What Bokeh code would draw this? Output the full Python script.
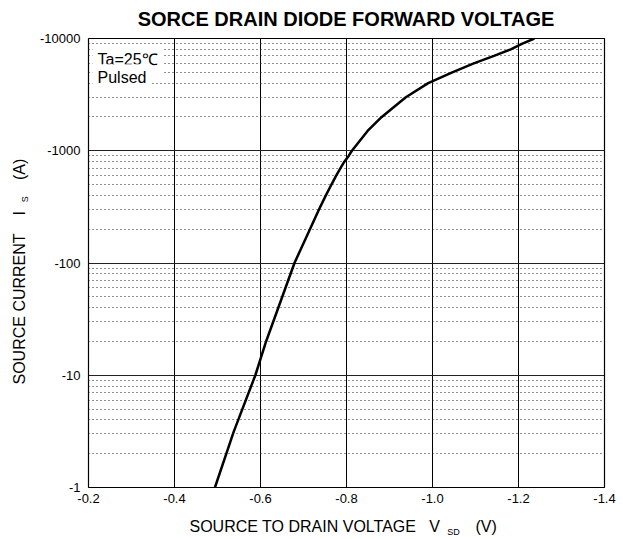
import math
from bokeh.plotting import figure
from bokeh.models import FixedTicker, CustomJSTickFormatter, Label, Range1d
from bokeh.embed import file_html
from bokeh.resources import INLINE

# ---- data ----
vsd = [0.494, 0.538, 0.588, 0.613, 0.679, 0.715, 0.736, 0.752, 0.765, 0.776,
       0.786, 0.795, 0.805, 0.8126, 0.849, 0.882, 0.938, 0.990, 1.046,
       1.096, 1.143, 1.182, 1.209, 1.237]
i_s = [1, 3.16, 10, 20, 100, 200, 300, 400, 500, 600,
       700, 800, 900, 1000, 1500, 2000, 3000, 4000, 5000,
       6000, 7000, 8000, 9000, 10000]

x_ticks = [0.2, 0.4, 0.6, 0.8, 1.0, 1.2, 1.4]
y_ticks = [1, 10, 100, 1000, 10000]
y_minor = [m * d for d in [1, 10, 100, 1000] for m in range(2, 10)]

title_text = "SORCE DRAIN DIODE FORWARD VOLTAGE"
note_lines = ["Ta=25\u2103", "Pulsed"]
NB = "\u00a0"
x_label = "SOURCE TO DRAIN VOLTAGE" + NB * 3 + "V" + NB * 8 + "(V)"
x_sub = "SD"
y_label = "SOURCE CURRENT" + NB * 4 + "I" + NB * 7 + "(A)"
y_sub = "S"
FONT = "Liberation Sans"

p = figure(width=623, height=539, y_axis_type="log",
           x_range=Range1d(0.2, 1.4), y_range=Range1d(1, 10000),
           output_backend="svg", toolbar_location=None,
           min_border_left=88, min_border_right=19,
           min_border_top=38, min_border_bottom=52)

p.background_fill_color = "white"
p.border_fill_color = "white"
p.outline_line_color = "black"
p.outline_line_width = 1.2

for ax in (p.xaxis[0], p.yaxis[0]):
    ax.axis_line_color = None
    ax.major_tick_line_color = None
    ax.minor_tick_line_color = None
    ax.major_tick_out = 0
    ax.minor_tick_out = 0
    ax.major_tick_in = 0
    ax.minor_tick_in = 0
    ax.major_label_text_font = FONT
    ax.major_label_text_font_size = "13px"
    ax.major_label_text_color = "black"

p.xaxis.ticker = FixedTicker(ticks=x_ticks)
p.xaxis.formatter = CustomJSTickFormatter(code="return '-' + Math.abs(tick).toFixed(1);")
p.xaxis.major_label_standoff = 6

p.yaxis.ticker = FixedTicker(ticks=y_ticks, minor_ticks=y_minor)
p.yaxis.formatter = CustomJSTickFormatter(code="return '-' + Math.round(tick);")
p.yaxis.major_label_standoff = 8

p.xgrid.ticker = FixedTicker(ticks=x_ticks)
p.xgrid.grid_line_color = "black"
p.xgrid.grid_line_width = 1
p.ygrid.ticker = FixedTicker(ticks=y_ticks, minor_ticks=y_minor)
p.ygrid.grid_line_color = "#222222"
p.ygrid.grid_line_width = 1.2
p.ygrid.minor_grid_line_color = "#222222"
p.ygrid.minor_grid_line_dash = "1 3"
p.ygrid.minor_grid_line_width = 1

p.line(vsd, i_s, line_color="black", line_width=2.5)


def lab(text, x, y, size, place=None, align="left", angle=0, bold=False,
        bg=None, pad=0):
    kw = {}
    if bg is not None:
        kw["background_fill_color"] = bg
        kw["padding"] = pad
    l = Label(x=x, y=y, x_units="canvas", y_units="canvas", text=text,
              text_font=FONT, text_font_size=f"{size}px",
              text_font_style="bold" if bold else "normal",
              text_align=align, text_baseline="alphabetic",
              angle=angle, text_color="black", **kw)
    if place is None:
        p.add_layout(l)
    else:
        p.add_layout(l, place)


# title (above panel)
lab(title_text, 345.5, 18, 20, place="above", align="center", bold=True)
lab(y_sub, 24, 201.7, 9, place="above", angle=math.pi / 2)

# note inside the frame
lab(note_lines[0], 92, 59, 16, bg="white", pad=5)
lab(note_lines[1], 92, 77.3, 16, bg="white", pad=5)

# axis titles
lab(x_label, 189, 526.3, 16, place="below")
lab(x_sub, 446.7, 531.7, 9, place="right")
lab(y_label, 18.6, 384, 16, place="left", angle=math.pi / 2)

open("out.html", "w").write(file_html(p, INLINE))
